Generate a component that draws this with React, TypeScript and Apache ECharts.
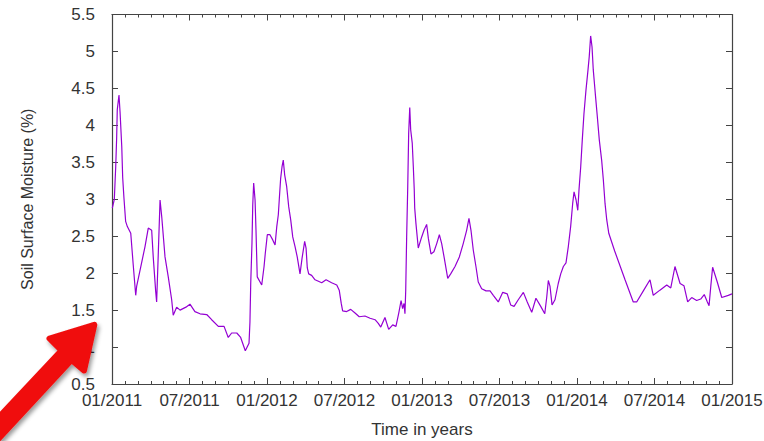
import React, { useEffect, useRef } from "react";
import * as echarts from "echarts";

// Time in decimal years
const times: number[] = [
  2011.002, 2011.015, 2011.024, 2011.030, 2011.034, 2011.045, 2011.052, 2011.063, 2011.069, 2011.077,
  2011.088, 2011.099, 2011.121, 2011.137, 2011.153, 2011.159, 2011.192, 2011.213, 2011.234, 2011.256,
  2011.266, 2011.282, 2011.288, 2011.299, 2011.310, 2011.321, 2011.342, 2011.363, 2011.385, 2011.395,
  2011.417, 2011.439, 2011.477, 2011.503, 2011.535, 2011.568, 2011.611, 2011.643, 2011.686, 2011.723,
  2011.750, 2011.772, 2011.805, 2011.830, 2011.860, 2011.884, 2011.890, 2011.895, 2011.903, 2011.908,
  2011.914, 2011.923, 2011.929, 2011.937, 2011.966, 2011.981, 2011.989, 2012.002, 2012.019, 2012.037,
  2012.052, 2012.063, 2012.073, 2012.079, 2012.088, 2012.097, 2012.105, 2012.114, 2012.127, 2012.140,
  2012.153, 2012.166, 2012.181, 2012.195, 2012.213, 2012.226, 2012.243, 2012.252, 2012.260, 2012.269,
  2012.288, 2012.310, 2012.353, 2012.381, 2012.417, 2012.450, 2012.466, 2012.479, 2012.488, 2012.514,
  2012.540, 2012.568, 2012.595, 2012.632, 2012.665, 2012.697, 2012.718, 2012.734, 2012.761, 2012.785,
  2012.811, 2012.832, 2012.850, 2012.865, 2012.875, 2012.884, 2012.890, 2012.895, 2012.901, 2012.908,
  2012.914, 2012.921, 2012.927, 2012.937, 2012.944, 2012.950, 2012.953, 2012.961, 2012.976, 2012.998,
  2013.013, 2013.030, 2013.041, 2013.058, 2013.077, 2013.095, 2013.112, 2013.127, 2013.144, 2013.166,
  2013.185, 2013.213, 2013.241, 2013.266, 2013.288, 2013.303, 2013.316, 2013.331, 2013.348, 2013.363,
  2013.385, 2013.413, 2013.439, 2013.460, 2013.492, 2013.521, 2013.550, 2013.572, 2013.594, 2013.621,
  2013.654, 2013.679, 2013.708, 2013.735, 2013.766, 2013.792, 2013.805, 2013.815, 2013.826, 2013.839,
  2013.858, 2013.879, 2013.895, 2013.912, 2013.929, 2013.944, 2013.959, 2013.972, 2013.981, 2013.994,
  2014.005, 2014.013, 2014.024, 2014.034, 2014.045, 2014.058, 2014.071, 2014.079, 2014.088, 2014.097,
  2014.105, 2014.118, 2014.131, 2014.144, 2014.159, 2014.170, 2014.181, 2014.192, 2014.205, 2014.243,
  2014.310, 2014.363, 2014.385, 2014.428, 2014.471, 2014.492, 2014.535, 2014.579, 2014.605, 2014.632,
  2014.665, 2014.690, 2014.714, 2014.740, 2014.772, 2014.798, 2014.821, 2014.841, 2014.852, 2014.863,
  2014.875, 2014.905, 2014.934, 2014.976, 2015.000,
];

// Soil surface moisture (%)
const moisture: number[] = [
  2.88, 3.00, 3.44, 3.83, 4.21, 4.41, 4.18, 3.71, 3.29, 3.02,
  2.70, 2.63, 2.54, 2.11, 1.70, 1.82, 2.15, 2.36, 2.61, 2.58,
  2.22, 1.75, 1.61, 2.29, 2.99, 2.76, 2.22, 1.95, 1.64, 1.43,
  1.54, 1.50, 1.54, 1.58, 1.48, 1.45, 1.44, 1.37, 1.28, 1.28,
  1.13, 1.19, 1.19, 1.13, 0.95, 1.05, 1.34, 1.86, 2.40, 2.92,
  3.22, 2.99, 2.58, 1.95, 1.84, 2.09, 2.27, 2.52, 2.52, 2.45,
  2.38, 2.63, 2.79, 2.99, 3.28, 3.44, 3.53, 3.33, 3.17, 2.90,
  2.72, 2.49, 2.36, 2.22, 1.99, 2.20, 2.43, 2.34, 2.07, 1.99,
  1.97, 1.91, 1.87, 1.91, 1.87, 1.84, 1.77, 1.59, 1.49, 1.48,
  1.51, 1.46, 1.41, 1.42, 1.39, 1.37, 1.32, 1.27, 1.40, 1.24,
  1.30, 1.28, 1.46, 1.63, 1.52, 1.59, 1.45, 1.77, 2.49, 3.17,
  3.89, 4.24, 3.94, 3.76, 3.44, 3.13, 2.88, 2.67, 2.34, 2.49,
  2.58, 2.66, 2.47, 2.26, 2.29, 2.40, 2.52, 2.40, 2.20, 1.93,
  1.99, 2.09, 2.22, 2.40, 2.58, 2.74, 2.58, 2.31, 2.09, 1.88,
  1.79, 1.76, 1.76, 1.70, 1.61, 1.74, 1.72, 1.57, 1.55, 1.64,
  1.74, 1.61, 1.47, 1.66, 1.55, 1.45, 1.68, 1.90, 1.82, 1.57,
  1.64, 1.86, 1.99, 2.09, 2.14, 2.36, 2.63, 2.94, 3.10, 2.99,
  2.85, 3.13, 3.44, 3.80, 4.16, 4.48, 4.75, 4.93, 5.21, 5.06,
  4.75, 4.43, 4.12, 3.80, 3.53, 3.26, 2.94, 2.72, 2.54, 2.30,
  1.91, 1.61, 1.61, 1.76, 1.91, 1.70, 1.77, 1.84, 1.80, 2.09,
  1.86, 1.83, 1.61, 1.67, 1.63, 1.65, 1.71, 1.61, 1.56, 1.82,
  2.08, 1.88, 1.67, 1.70, 1.72,
];

const xTickLabels: string[] = [
  "01/2011", "07/2011", "01/2012", "07/2012", "01/2013",
  "07/2013", "01/2014", "07/2014", "01/2015",
];

const X_MIN = 2011;
const X_MAX = 2015;
const X_STEP = 0.5;
const Y_MIN = 0.5;
const Y_MAX = 5.5;
const Y_STEP = 0.5;

const FONT = "'Liberation Sans', Arial, Helvetica, sans-serif";
const AXIS_COLOR = "#444444";
const TEXT_COLOR = "#333333";
const LINE_COLOR = "#9400d3";
const ARROW_COLOR = "#f01010";

export default function App() {
  const ref = useRef<HTMLDivElement>(null);

  useEffect(() => {
    if (!ref.current) return;
    const chart = echarts.init(ref.current, undefined, { renderer: "svg" });

    const frameAxisCommon = {
      axisLine: { show: true, onZero: false, lineStyle: { color: AXIS_COLOR, width: 1.2 } },
      splitLine: { show: false },
      minorSplitLine: { show: false },
    };

    const xCommon = {
      type: "value",
      min: X_MIN,
      max: X_MAX,
      interval: X_STEP,
      ...frameAxisCommon,
      axisTick: { show: true, inside: true, length: 6, lineStyle: { color: AXIS_COLOR } },
      minorTick: { show: true, splitNumber: 6, length: 3, lineStyle: { color: AXIS_COLOR } },
    };
    const yCommon = {
      type: "value",
      min: Y_MIN,
      max: Y_MAX,
      interval: Y_STEP,
      ...frameAxisCommon,
      axisTick: { show: true, inside: true, length: 6, lineStyle: { color: AXIS_COLOR } },
    };

    const data = times.map((t, i) => [t, moisture[i]]);

    chart.setOption({
      animation: false,
      backgroundColor: "#ffffff",
      grid: {
        left: 112,
        right: 32,
        top: 14.5,
        bottom: 57,
        containLabel: false,
        outerBoundsMode: "none",
      },
      xAxis: [
        {
          ...xCommon,
          position: "bottom",
          axisLabel: {
            show: true,
            margin: 8,
            fontSize: 17,
            lineHeight: 17,
            fontFamily: FONT,
            color: TEXT_COLOR,
            formatter: (v: number) => xTickLabels[Math.round((v - X_MIN) / X_STEP)] ?? "",
          },
          name: "Time in years",
          nameLocation: "middle",
          nameGap: 37,
          nameTextStyle: { fontSize: 17, fontFamily: FONT, color: TEXT_COLOR, verticalAlign: "top" },
        },
        {
          ...xCommon,
          position: "top",
          axisLabel: { show: false },
        },
      ],
      yAxis: [
        {
          ...yCommon,
          position: "left",
          axisLabel: {
            show: true,
            margin: 17,
            fontSize: 17,
            lineHeight: 14,
            fontFamily: FONT,
            color: TEXT_COLOR,
          },
          name: "Soil Surface Moisture (%)",
          nameLocation: "middle",
          nameGap: 85,
          nameRotate: 90,
          nameTextStyle: { fontSize: 16, fontFamily: FONT, color: TEXT_COLOR, verticalAlign: "middle" },
        },
        {
          ...yCommon,
          position: "right",
          axisLabel: { show: false },
        },
      ],
      series: [
        {
          type: "line",
          xAxisIndex: 0,
          yAxisIndex: 0,
          data,
          showSymbol: false,
          symbol: "none",
          lineStyle: { color: LINE_COLOR, width: 1.2 },
          silent: true,
          z: 3,
        },
      ],
      graphic: [
        {
          type: "polygon",
          z: 200,
          shape: {
            points: [
              [94.3, 324.9],
              [84, 370.5],
              [71.5, 360],
              [-5, 442.5],
              [-15.5, 432.5],
              [61.5, 350.5],
              [49.5, 338.5],
            ],
          },
          style: {
            fill: ARROW_COLOR,
            stroke: ARROW_COLOR,
            lineWidth: 6,
            lineJoin: "round",
            shadowBlur: 4,
            shadowOffsetX: 2,
            shadowOffsetY: 3,
            shadowColor: "rgba(0,0,0,0.4)",
          },
        },
      ],
    });

    return () => {
      chart.dispose();
    };
  }, []);

  return (
    <div
      ref={ref}
      style={{ position: "fixed", left: 0, top: 0, width: 764, height: 441, background: "#fff" }}
    />
  );
}
